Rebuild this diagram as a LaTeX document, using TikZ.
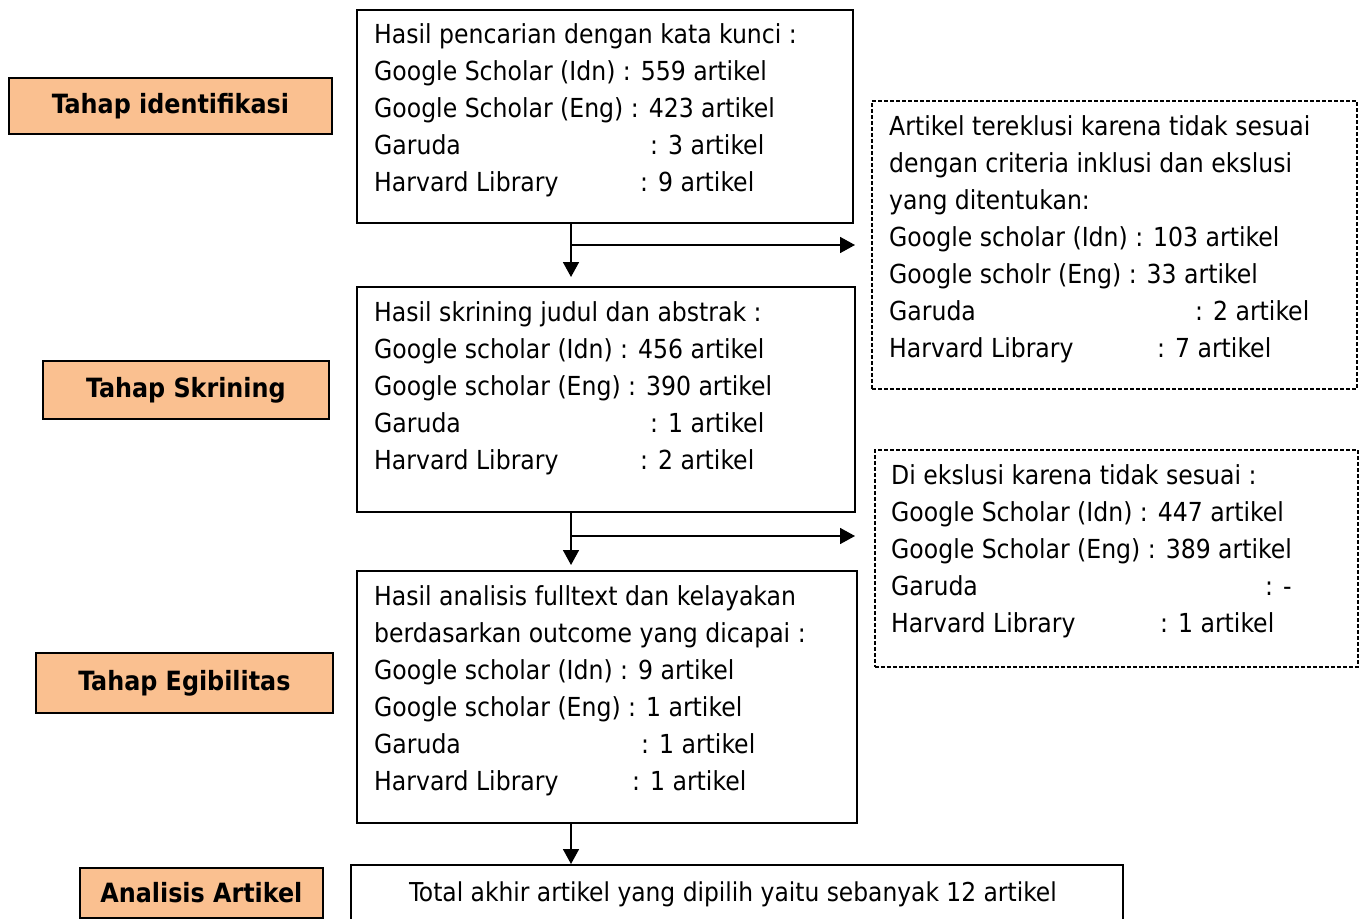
\documentclass[tikz,border=0pt]{standalone}
\usepackage{fontspec}
\setmainfont{DejaVu Sans Condensed}
\usetikzlibrary{arrows.meta}
\definecolor{peach}{HTML}{FAC090}
\begin{document}
\begin{tikzpicture}[x=1pt,y=-1pt,
  stage/.style={draw=black, line width=1.8pt, fill=peach, font=\fontsize{26.5}{30}\selectfont\bfseries, inner sep=0pt, anchor=north west},
  box/.style={draw=black, line width=1.7pt, inner sep=0pt, anchor=north west},
  dbox/.style={draw=black, line width=1.7pt, dash pattern=on 4pt off 2pt, inner sep=0pt, anchor=north west},
  txt/.style={font=\fontsize{26.2}{37}\selectfont, align=left, inner sep=0pt, anchor=north west},
  arr/.style={line width=1.7pt, -{Triangle[length=15pt,width=16pt]}}]
\useasboundingbox (0,0) rectangle (1362,918);
% stage labels
\node[stage, minimum width=323pt, minimum height=56pt] (s1) at (8,77) {Tahap identifikasi};
\node[stage, minimum width=286pt, minimum height=58pt] (s2) at (42,360) {Tahap Skrining};
\node[stage, minimum width=297pt, minimum height=60pt] (s3) at (35,652) {Tahap Egibilitas};
\node[stage, minimum width=243pt, minimum height=50pt, anchor=north west, text depth=0pt] (s4) at (79,867) {Analisis Artikel};
% main boxes
\node[box, minimum width=496pt, minimum height=213pt] (b1) at (356,9) {};
\node[txt] (t1) at (374,23) {\rule{0pt}{20pt}Hasil pencarian dengan kata kunci :\\
Google Scholar (Idn) : 559 artikel\\
Google Scholar (Eng) : 423 artikel\\
\makebox[276pt][l]{Garuda}: 3 artikel\\
\makebox[266pt][l]{Harvard Library}: 9 artikel};
\node[box, minimum width=498pt, minimum height=225pt] (b2) at (356,286) {};
\node[txt] (t2) at (374,301) {\rule{0pt}{20pt}Hasil skrining judul dan abstrak :\\
Google scholar (Idn) : 456 artikel\\
Google scholar (Eng) : 390 artikel\\
\makebox[276pt][l]{Garuda}: 1 artikel\\
\makebox[266pt][l]{Harvard Library}: 2 artikel};
\node[box, minimum width=500pt, minimum height=252pt] (b3) at (356,570) {};
\node[txt] (t3) at (374,585) {\rule{0pt}{20pt}Hasil analisis fulltext dan kelayakan\\
berdasarkan outcome yang dicapai :\\
Google scholar (Idn) : 9 artikel\\
Google scholar (Eng) : 1 artikel\\
\makebox[267pt][l]{Garuda}: 1 artikel\\
\makebox[258pt][l]{Harvard Library}: 1 artikel};
\node[box, minimum width=772pt, minimum height=90pt] (b4) at (350,864) {};
\node[font=\fontsize{26}{30}\selectfont, inner sep=0pt, anchor=base] (t4) at (733,901) {Total akhir artikel yang dipilih yaitu sebanyak 12 artikel};
% dashed boxes
\node[dbox, minimum width=485pt, minimum height=288pt] (d1) at (871,100) {};
\node[txt] (u1) at (889,115) {\rule{0pt}{20pt}Artikel tereklusi karena tidak sesuai\\
dengan criteria inklusi dan ekslusi\\
yang ditentukan:\\
Google scholar (Idn) : 103 artikel\\
Google scholr (Eng) : 33 artikel\\
\makebox[306pt][l]{Garuda}: 2 artikel\\
\makebox[268pt][l]{Harvard Library}: 7 artikel};
\node[dbox, minimum width=483pt, minimum height=217pt] (d2) at (874,449) {};
\node[txt] (u2) at (891,464) {\rule{0pt}{20pt}Di ekslusi karena tidak sesuai :\\
Google Scholar (Idn) : 447 artikel\\
Google Scholar (Eng) : 389 artikel\\
\makebox[374pt][l]{Garuda}: -\\
\makebox[269pt][l]{Harvard Library}: 1 artikel};
% connectors
\coordinate (h1) at (571,245);
\coordinate (h2) at (571,536);
\coordinate (v3) at (571,822);
\draw[arr, shorten >=9pt] (b1.south -| h1) -- (b2.north -| h1);
\draw[arr, shorten >=16pt] (h1) -- (h1 -| d1.west);
\draw[arr, shorten >=5pt] (b2.south -| h2) -- (b3.north -| h2);
\draw[arr, shorten >=19pt] (h2) -- (h2 -| d2.west);
\draw[arr] (b3.south -| v3) -- (b4.north -| v3);
\end{tikzpicture}
\end{document}
